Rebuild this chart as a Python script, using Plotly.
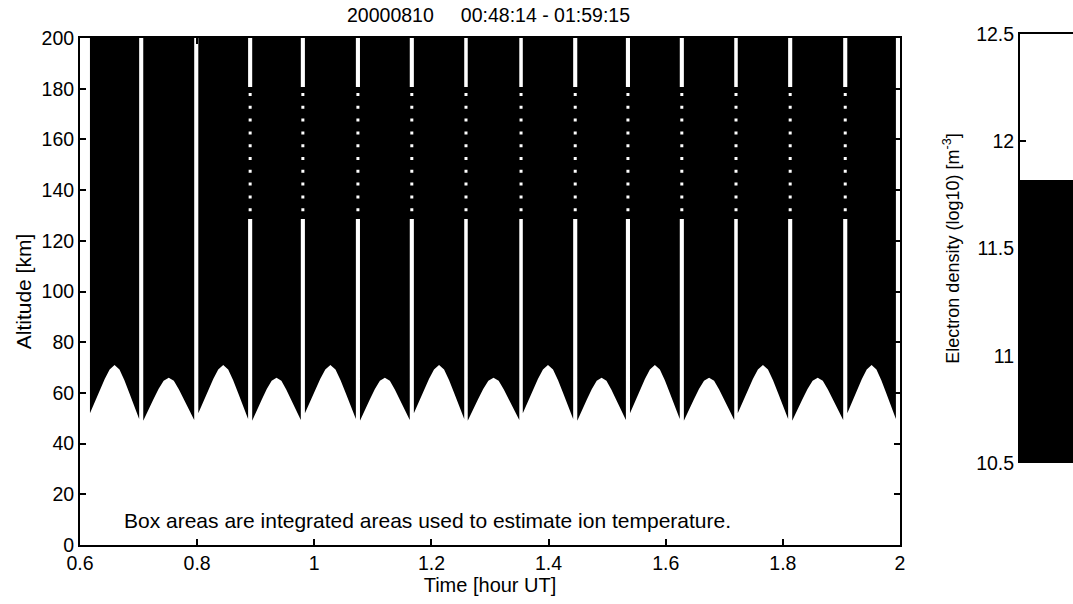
import plotly.graph_objects as go

# --- scan segments of the radar run (hours UT) ---
seg_start = [0.617, 0.708, 0.802, 0.894, 0.984, 1.078, 1.170, 1.262,
             1.356, 1.449, 1.539, 1.631, 1.723, 1.816, 1.910]
seg_end = [0.701, 0.795, 0.887, 0.977, 1.071, 1.163, 1.256, 1.350,
           1.442, 1.532, 1.624, 1.717, 1.809, 1.903, 1.993]

# lower edge of the covered altitude range across one scan [km]
scan_frac = [0.0, 0.1, 0.2, 0.3, 0.4, 0.5, 0.6, 0.7, 0.8, 0.9, 1.0]
edge_high = [52.0, 56.5, 61.0, 65.5, 69.2, 71.0, 69.2, 65.0, 60.0, 55.0, 49.7]
edge_low = [49.0, 53.5, 57.5, 61.5, 64.8, 66.0, 64.8, 61.3, 57.3, 53.3, 49.3]
seg_profile = ["high", "low", "high", "low", "high", "low", "high", "low",
               "high", "low", "high", "low", "high", "low", "high"]
alt_top = 200.0

# gaps between scans that carry partial data in a mid-altitude band
partial_gaps = [2, 3, 4, 5, 6, 7, 8, 9, 10, 11, 12, 13]
partial_band = [128.6, 180.7]
partial_dash = [129.5, 178.3]

# electron density scale (log10 m^-3)
ne_range = [10.5, 12.5]
ne_black_top = 11.82

# ticks
alt_ticks = [0, 20, 40, 60, 80, 100, 120, 140, 160, 180, 200]
time_ticks = [0.6, 0.8, 1.0, 1.2, 1.4, 1.6, 1.8, 2.0]
time_labels = ["0.6", "0.8", "1", "1.2", "1.4", "1.6", "1.8", "2"]
ne_ticks = [10.5, 11, 11.5, 12, 12.5]
ne_labels = ["10.5", "11", "11.5", "12", "12.5"]

profiles = {"high": edge_high, "low": edge_low}

FONT = "Liberation Sans, Arial, sans-serif"
fig = go.Figure()

# coverage polygons, one per scan
px, py = [], []
for s, e, p in zip(seg_start, seg_end, seg_profile):
    prof = profiles[p]
    px += [s + f * (e - s) for f in scan_frac] + [e, s, s, None]
    py += list(prof) + [alt_top, alt_top, prof[0], None]
fig.add_trace(go.Scatter(x=px, y=py, mode="lines", fill="toself",
                         fillcolor="black", line=dict(width=0, color="black"),
                         hoverinfo="skip", showlegend=False))

# partial-data gaps: dark band with periodic missing samples
bx, by, wx = [], [], []
for g in partial_gaps:
    xc = 0.5 * (seg_end[g] + seg_start[g + 1])
    bx += [xc, xc, None]
    by += [partial_band[1], partial_band[0], None]
    wx.append(xc)
fig.add_trace(go.Scatter(x=bx, y=by, mode="lines",
                         line=dict(color="black", width=7),
                         hoverinfo="skip", showlegend=False))
for xc in wx:
    fig.add_trace(go.Scatter(x=[xc, xc], y=[partial_dash[1], partial_dash[0]],
                             mode="lines",
                             line=dict(color="white", width=3, dash="3px,9.8px"),
                             hoverinfo="skip", showlegend=False))

# density scale panel
fig.add_trace(go.Bar(x=[0.5], y=[ne_black_top - ne_range[0]], base=[ne_range[0]],
                     width=[1.0], marker=dict(color="black", line=dict(width=0)),
                     xaxis="x2", yaxis="y2", hoverinfo="skip", showlegend=False))

axis_common = dict(showline=True, linecolor="black", linewidth=2,
                   ticks="inside", ticklen=6, tickwidth=1.5, tickcolor="black",
                   showgrid=False, zeroline=False, automargin=False,
                   tickfont=dict(family=FONT, size=19.5, color="black"))

fig.update_layout(
    width=1073, height=604,
    margin=dict(l=0, r=0, t=0, b=0),
    paper_bgcolor="white", plot_bgcolor="white",
    bargap=0,
    xaxis=dict(domain=[80 / 1073, 900 / 1073], range=[0.6, 2.0],
               tickvals=time_ticks, ticktext=time_labels, mirror="ticks",
               title=dict(text="Time [hour UT]", standoff=4,
                          font=dict(family=FONT, size=20, color="black")),
               **axis_common),
    yaxis=dict(domain=[1 - 545 / 604, 1 - 38 / 604], range=[0, 200],
               tickvals=alt_ticks, mirror="ticks",
               title=dict(text="Altitude [km]", standoff=4,
                          font=dict(family=FONT, size=21, color="black")),
               **axis_common),
    xaxis2=dict(domain=[1020 / 1073, 1.0], range=[0, 1], anchor="y2",
                side="top", showticklabels=False, showline=True,
                linecolor="black", linewidth=2, ticks="", showgrid=False,
                zeroline=False),
    yaxis2=dict(domain=[1 - 463 / 604, 1 - 34 / 604], range=ne_range,
                anchor="x2", tickvals=ne_ticks, ticktext=ne_labels,
                title=dict(text="Electron density (log10) [m<sup>-3</sup>]",
                           standoff=12,
                           font=dict(family=FONT, size=18, color="black")),
                **axis_common),
    annotations=[
        dict(text="20000810\u00a0\u00a0\u00a0\u00a0\u00a000:48:14 - 01:59:15",
             xref="paper", yref="paper", x=488 / 1073, y=1 - 15 / 604,
             xanchor="center", yanchor="middle", showarrow=False,
             font=dict(family=FONT, size=19.5, color="black")),
        dict(text="Box areas are integrated areas used to estimate ion temperature.",
             xref="x", yref="y", x=0.671, y=9.5, xanchor="left", yanchor="middle",
             showarrow=False, font=dict(family=FONT, size=21, color="black")),
    ],
)

fig.write_html("out.html")
